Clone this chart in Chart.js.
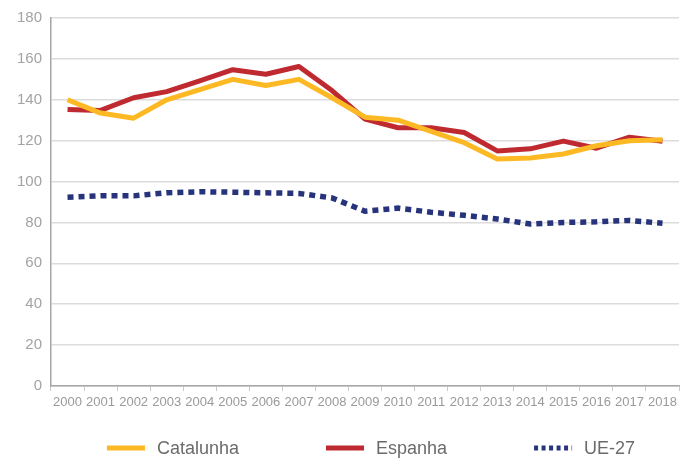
<!DOCTYPE html>
<html>
<head>
<meta charset="utf-8">
<script src="https://cdn.jsdelivr.net/npm/chart.js@4"></script>
<style>
  html, body { margin: 0; padding: 0; background: #ffffff; }
  #wrap { width: 681px; height: 458px; position: relative; }
</style>
</head>
<body>
<div id="wrap"><canvas id="c" width="681" height="458"></canvas></div>
<script>
const years = ['2000','2001','2002','2003','2004','2005','2006','2007','2008','2009','2010','2011','2012','2013','2014','2015','2016','2017','2018'];
const catalunha = [140, 133.5, 131, 140, 145, 150, 147, 150, 141, 131.5, 130, 124.5, 119, 111, 111.5, 113.5, 117.5, 120, 120.5];
const espanha = [135.3, 134.8, 141, 144, 149.3, 154.7, 152.5, 156.3, 144.5, 130.5, 126.3, 126.3, 124, 115, 116, 119.8, 116.3, 121.7, 119.7];
const ue27 = [92.3, 93, 93, 94.5, 95, 94.8, 94.5, 94.2, 92, 85.5, 87, 85, 83.5, 81.7, 79.2, 80, 80.3, 81, 79.6];
const seriesNames = ['Catalunha', 'Espanha', 'UE-27'];

const customLegend = {
  id: 'customLegend',
  afterDraw(chart) {
    const ctx = chart.ctx;
    const ds = chart.data.datasets;
    const font = '18px "Liberation Sans", Arial, sans-serif';
    ctx.save();
    ctx.font = font;
    const boxW = 38, gapText = 12, gapItem = 87;
    const widths = ds.map(d => boxW + gapText + ctx.measureText(d.label).width);
    const total = widths.reduce((a, b) => a + b, 0) + gapItem * (ds.length - 1);
    const ca = chart.chartArea;
    let x = (ca.left + ca.right) / 2 + 6 - total / 2;
    const y = 448;
    ds.forEach((d, i) => {
      ctx.beginPath();
      ctx.strokeStyle = d.borderColor;
      ctx.lineWidth = 5;
      ctx.lineCap = 'butt';
      ctx.setLineDash(d.borderDash && d.borderDash.length ? [4, 3.5] : []);
      ctx.moveTo(x, y);
      ctx.lineTo(x + boxW, y);
      ctx.stroke();
      ctx.setLineDash([]);
      ctx.fillStyle = '#6b6b6b';
      ctx.textBaseline = 'middle';
      ctx.textAlign = 'left';
      ctx.fillText(d.label, x + boxW + gapText, y + 1);
      x += widths[i] + gapItem;
    });
    ctx.restore();
  }
};

new Chart(document.getElementById('c'), {
  type: 'line',
  data: {
    labels: years,
    datasets: [
      { label: seriesNames[0], data: catalunha, borderColor: '#FDB924', borderWidth: 5, pointRadius: 0, tension: 0, fill: false, borderJoinStyle: 'round' },
      { label: seriesNames[1], data: espanha, borderColor: '#BE2A30', borderWidth: 5, pointRadius: 0, tension: 0, fill: false, borderJoinStyle: 'round' },
      { label: seriesNames[2], data: ue27, borderColor: '#27337B', borderWidth: 5.5, borderDash: [6, 5], borderCapStyle: 'butt', pointRadius: 0, tension: 0, fill: false }
    ]
  },
  options: {
    responsive: false,
    animation: false,
    devicePixelRatio: 1,
    layout: { padding: { top: 18, left: 0, right: 1, bottom: 42 } },
    plugins: {
      legend: { display: false },
      tooltip: { enabled: false }
    },
    scales: {
      x: {
        offset: true,
        grid: { display: true, drawOnChartArea: false, drawTicks: true, tickLength: 5, offset: true, color: '#c8c8c8', lineWidth: 1 },
        border: { display: true, color: '#a6a6a6', width: 1.5 },
        ticks: { autoSkip: false, maxRotation: 0, minRotation: 0, padding: 4, color: '#9a9a9a', font: { family: '"Liberation Sans", Arial, sans-serif', size: 13 } },
        afterFit(scale) { scale.height = 30; }
      },
      y: {
        min: 0, max: 180,
        ticks: { stepSize: 20, padding: 9, color: '#a3a3a3', font: { family: '"Liberation Sans", Arial, sans-serif', size: 15 } },
        grid: { color: '#dcdcdc', lineWidth: 1.5, drawTicks: false },
        border: { display: true, color: '#a6a6a6', width: 1.5 },
        afterFit(scale) { scale.width = 51; }
      }
    }
  },
  plugins: [customLegend]
});
</script>
</body>
</html>
